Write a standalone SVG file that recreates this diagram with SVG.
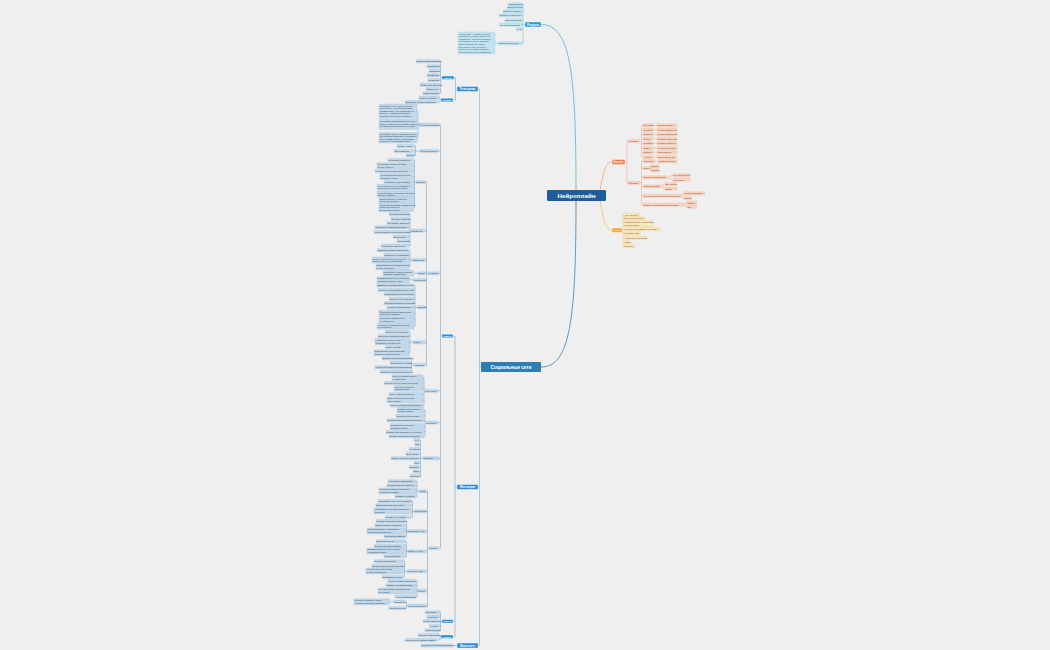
<svg xmlns="http://www.w3.org/2000/svg" width="1050" height="650" viewBox="0 0 1050 650">
<style>
.n{fill:#2b8fd4;stroke:#fff;stroke-width:0.4}
.nt{font-family:"Liberation Sans",Arial,sans-serif;font-weight:bold;fill:#fff;text-anchor:middle}
.r{fill:#c2d7e7;stroke:#94b7d2;stroke-width:0.25}
.t{font-family:"Liberation Sans",Arial,sans-serif;font-size:2.3px;fill:#27475f}
.tn{font-size:2.1px}
.ro{fill:#f7d3c1;stroke:#eba88a;stroke-width:0.25}
.to{fill:#8a3f20}
.ry{fill:#fae6bd;stroke:#eec878;stroke-width:0.25}
.ty{fill:#7a5512}
.rc{fill:#c4e2ee;stroke:#8cc5db;stroke-width:0.25}
.tc{fill:#1d566f}
.cb{fill:none;stroke:#4d93cc;stroke-width:0.45}
.co{fill:none;stroke:#ef9f7d;stroke-width:0.45}
.cy{fill:none;stroke:#f2c061;stroke-width:0.45}
.cc{fill:none;stroke:#5ab6d8;stroke-width:0.45}
</style>
<rect width="1050" height="650" fill="#efefef"/>
<g id="connectors">
<path d="M576,190 C576,70 570,24.5 541,24.5" fill="none" stroke="#58b2d6" stroke-width="0.8"/>
<path d="M576,201 C576,320 570,367 541,367" fill="none" stroke="#3b82b3" stroke-width="0.8"/>
<path d="M600,190 C604,170 606,162 612,162" fill="none" stroke="#ef9f7d" stroke-width="0.8"/>
<path d="M600,201 C604,222 606,230.2 612,230.2" fill="none" stroke="#f2c061" stroke-width="0.8"/>
<path class="cc" d="M525,24.5H523M523,4.3V43.3M522,4.3H523M522,7.6H523M522,11.4H523M522,15.4H523M522,20.3H523M522,24.7H523M522,29H523M522,43.3H523M495,43.3H498"/>
<path class="co" d="M625,162H627M627,141V183M627,141H628M627,183H628M640,141H641.5M641.5,125.3V157M641.5,125.3H643M641.5,129.7H643M641.5,134.3H643M641.5,138.7H643M641.5,143.3H643M641.5,148H643M641.5,152.3H643M641.5,157H643M653,125.3H657M653,129.7H657M653,134.3H657M653,138.7H657M653,143.3H657M653,148H657M653,152.3H657M653,157H657M640,183H641.5M641.5,161.3V204.7M641.5,161.3H643M641.5,168H643M641.5,177.3H643M641.5,186.3H643M641.5,195.7H643M641.5,204.7H643M655,161.3H658M649.5,168H650.3M650.3,166.3V170.3M650.3,166.3H651M650.3,170.3H651M668,177.3H670.5M670.5,175.3V179.7M670.5,175.3H673M670.5,179.7H673M661,186.3H663M663,184V188.7M663,184H665M663,188.7H665M681,195.7H682.5M682.5,193.3V198M682.5,193.3H684M682.5,198H684M684,204.7H685.5M685.5,202.7V207M685.5,202.7H687M685.5,207H687"/>
<path class="cy" d="M622,230.2H623M623,214.7V246.3M623,214.7H624M623,218.3H624M623,223.7H624M623,229H624M623,233.3H624M623,237.7H624M623,242H624M623,246.3H624"/>
<path d="M481,367H479.5M479.5,89V645.5M478,89H479.5M478,487H479.5M478,645.5H479.5" fill="none" stroke="#7fb0d6" stroke-width="0.6"/>
<path class="cb" d="M457,89H455.5M455.5,77.8V100M454,77.8H455.5M453,100H455.5M442,77.8H440.6M440.6,61.3V93.3M439.5,61.3H440.6M439.5,66.3H440.6M439.5,70.7H440.6M439.5,75.3H440.6M439.5,80H440.6M439.5,84.7H440.6M439.5,89H440.6M439.5,93.3H440.6M441,100H440M440,97.7V102M439,97.7H440M437,102H440"/>
<path class="cb" d="M457,487H455M455,336V636.7M453,336H455M453,621.3H455M453,636.7H455M442,336H440.5M440.5,124.7V548M439,124.7H440.5M438,151H440.5M439,273.3H440.5M438,391H440.5M438,422.7H440.5M439,458.3H440.5M439,548H440.5"/>
<path class="cb" d="M419,124.7H418M418,111V137.7M417,111H418M417,124.2H418M417,137.7H418M420,151H415.5M415.5,146V155.3M414.5,146H415.5M414.5,151H415.5M414.5,155.3H415.5"/>
<path class="cb" d="M428,273.3H426.5M426.5,182V365M425.5,182H426.5M425.5,230.7H426.5M425.5,260H426.5M425.5,273.3H426.5M425.5,280H426.5M425.5,307.3H426.5M425.5,342.3H426.5M425.5,365H426.5"/>
<path class="cb" d="M416,182H414.5M414.5,160V207.5M413.5,160H414.5M413.5,165.8H414.5M413.5,171H414.5M413.5,176.5H414.5M413.5,182H414.5M413.5,187.3H414.5M413.5,194H414.5M413.5,200H414.5M413.5,207.5H414.5"/>
<path class="cb" d="M411,230.7H410M410,214V245.7M409,214H410M409,218.7H410M409,223H410M409,227.3H410M409,232H410M409,236.7H410M409,241H410M409,245.7H410"/>
<path class="cb" d="M412,260H410M410,250.3V266.7M409,250.3H410M409,254.7H410M409,260H410M409,266.7H410M414,273.3H418M409,279.9H413"/>
<path class="cb" d="M417,307.3H415M415,285.3V326.3M414,285.3H415M414,289.8H415M414,294.2H415M414,298.7H415M414,303.1H415M414,307.6H415M414,313.3H415M414,319.8H415M414,326.3H415"/>
<path class="cb" d="M413,342.3H410M410,331.7V352.8M409,331.7H410M409,336.1H410M409,341.7H410M409,347H410M409,352.8H410M414,365H411.5M411.5,358.3V371.7M410.5,358.3H411.5M410.5,362.7H411.5M410.5,367.3H411.5M410.5,371.7H411.5"/>
<path class="cb" d="M425,391H424M424,377.8V405.5M423,377.8H424M423,383H424M423,388.2H424M423,394.1H424M423,399.8H424M423,405.5H424M426,422.7H425M425,410.3V436.1M424,410.3H425M424,416H425M424,420.4H425M424,426.5H425M424,431.8H425M424,436.1H425"/>
<path class="cb" d="M423,458.3H420.5M420.5,440.2V476M419.5,440.2H420.5M419.5,444.6H420.5M419.5,449H420.5M419.5,453.8H420.5M419.5,458.3H420.5M419.5,462.7H420.5M419.5,467.1H420.5M419.5,471.6H420.5M419.5,476H420.5"/>
<path class="cb" d="M429,548H427.5M427.5,491.3V605.7M426.5,491.3H427.5M426.5,511.3H427.5M426.5,531.3H427.5M426.5,551.3H427.5M426.5,571.3H427.5M426.5,590.7H427.5M426.5,605.7H427.5"/>
<path class="cb" d="M419,491.3H417M417,481.3V496.3M416,481.3H417M416,485.5H417M416,490.9H417M416,496.3H417M414,511.3H412.5M412.5,501V517M411.5,501H412.5M411.5,505.4H412.5M411.5,510.9H412.5M411.5,517H412.5"/>
<path class="cb" d="M407,531.3H406.5M406.5,520.9V536.4M405.5,520.9H406.5M405.5,525.4H406.5M405.5,530.9H406.5M405.5,536.4H406.5M408,551.3H406.5M406.5,541.4V556.4M405.5,541.4H406.5M405.5,545.8H406.5M405.5,550.9H406.5M405.5,556.4H406.5"/>
<path class="cb" d="M407,571.3H404.5M404.5,561.4V577M403.5,561.4H404.5M403.5,565.8H404.5M403.5,570.9H404.5M403.5,577H404.5M418,590.7H417M417,580.8V596.7M416,580.8H417M416,585.4H417M416,590.9H417M416,596.7H417"/>
<path class="cb" d="M408,605.7H406.5M406.5,601.7V608M405.5,601.7H406.5M405.5,608H406.5M389.5,601.7H394"/>
<path class="cb" d="M442,621.3H440.5M440.5,612.3V630.4M439.5,612.3H440.5M439.5,616.7H440.5M439.5,621.2H440.5M439.5,625.8H440.5M439.5,630.4H440.5M441,636.7H440M440,635V639.9M439,635H440M437,639.9H440M453,645.5H457"/>
</g>

<g id="center"><rect x="547" y="190" width="59" height="11" rx="1.2" fill="#1e5d99"/><text class="nt" x="576.5" y="197.9" font-size="6.2">Нейроплайн</text></g>

<g id="resources"><rect x="525" y="22" width="16" height="5" rx="0.8" fill="#1ba1d1" stroke="#fff" stroke-width="0.4"/><text class="nt" x="533" y="25.5" font-size="2.8">Ресурсы</text></g>
<g id="res-1"><rect class="rc" x="508" y="2.7" width="14" height="3.2" rx="0.5"/><text class="t tc" x="508.6" y="5.1">Сайт проекта</text></g>
<g id="res-2"><rect class="rc" x="507" y="6" width="15" height="3.2" rx="0.5"/><text class="t tc" x="507.6" y="8.4">Вики проекта</text></g>
<g id="res-3"><rect class="rc" x="503" y="9.8" width="19" height="3.2" rx="0.5"/><text class="t tc" x="503.6" y="12.2">Гайд по сервису</text></g>
<g id="res-4"><rect class="rc" x="499" y="13.8" width="23" height="3.2" rx="0.5"/><text class="t tc" x="499.6" y="16.2">Каталог нейросетей</text></g>
<g id="res-5"><rect class="rc" x="505" y="18.7" width="17" height="3.2" rx="0.5"/><text class="t tc" x="505.6" y="21.1">Бот поддержки</text></g>
<g id="res-6"><rect class="rc" x="499" y="23.1" width="23" height="3.2" rx="0.5"/><text class="t tc" x="499.6" y="25.5">Чат пользователей</text></g>
<g id="res-7"><rect class="rc" x="516" y="27.4" width="6" height="3.2" rx="0.5"/><text class="t tc" x="516.6" y="29.8">FAQ</text></g>
<g id="res-8"><rect class="rc" x="498" y="41.7" width="24" height="3.2" rx="0.5"/><text class="t tc" x="498.6" y="44.1">Описание проекта</text></g>
<g id="res-note"><rect class="rc" x="458" y="32" width="37" height="22" rx="0.5"/><text class="t tc tn" x="458.7" y="34.6">Нейроплайн — сервис, который<tspan x="458.7" y="37.2">объединяет лучшие нейросети в</tspan><tspan x="458.7" y="39.8">одном месте. Пользователи могут</tspan><tspan x="458.7" y="42.4">генерировать тексты, картинки,</tspan><tspan x="458.7" y="45">видео и музыку без VPN и</tspan><tspan x="458.7" y="47.6">иностранных карт. Оплата в</tspan><tspan x="458.7" y="50.2">рублях, понятный интерфейс и</tspan><tspan x="458.7" y="52.8">поддержка 24/7 на русском языке.</tspan></text></g>

<g id="content"><rect x="612" y="159.5" width="13" height="5" rx="0.8" fill="#f47b48" stroke="#fff" stroke-width="0.4"/><text class="nt" x="618.5" y="162.9" font-size="2.6">Контент</text></g>
<g id="ct-rub"><rect class="ro" x="628" y="139.4" width="12" height="3.2" rx="0.5"/><text class="t to" x="628.6" y="141.8">Рубрики</text></g>
<g id="ct-fmt"><rect class="ro" x="628" y="181.4" width="12" height="3.2" rx="0.5"/><text class="t to" x="628.6" y="183.8">Форматы</text></g>
<g id="rub-1"><rect class="ro" x="643" y="123.7" width="10" height="3.2" rx="0.5"/><text class="t to" x="643.5" y="126.1">Обучение</text><rect class="ro" x="657" y="123.7" width="20" height="3.2" rx="0.5"/><text class="t to" x="657.6" y="126.1">Уроки и гайды</text></g>
<g id="rub-2"><rect class="ro" x="643" y="128.1" width="10" height="3.2" rx="0.5"/><text class="t to" x="643.5" y="130.5">Новости</text><rect class="ro" x="657" y="128.1" width="20" height="3.2" rx="0.5"/><text class="t to" x="657.6" y="130.5">Новинки мира ИИ</text></g>
<g id="rub-3"><rect class="ro" x="643" y="132.7" width="10" height="3.2" rx="0.5"/><text class="t to" x="643.5" y="135.1">Обзоры</text><rect class="ro" x="657" y="132.7" width="20" height="3.2" rx="0.5"/><text class="t to" x="657.6" y="135.1">Обзор нейросетей</text></g>
<g id="rub-4"><rect class="ro" x="643" y="137.1" width="10" height="3.2" rx="0.5"/><text class="t to" x="643.5" y="139.5">Кейсы</text><rect class="ro" x="657" y="137.1" width="20" height="3.2" rx="0.5"/><text class="t to" x="657.6" y="139.5">Истории клиентов</text></g>
<g id="rub-5"><rect class="ro" x="643" y="141.7" width="10" height="3.2" rx="0.5"/><text class="t to" x="643.5" y="144.1">Промпты</text><rect class="ro" x="657" y="141.7" width="20" height="3.2" rx="0.5"/><text class="t to" x="657.6" y="144.1">Готовые запросы</text></g>
<g id="rub-6"><rect class="ro" x="643" y="146.4" width="10" height="3.2" rx="0.5"/><text class="t to" x="643.5" y="148.8">Юмор</text><rect class="ro" x="657" y="146.4" width="20" height="3.2" rx="0.5"/><text class="t to" x="657.6" y="148.8">Мемы и приколы</text></g>
<g id="rub-7"><rect class="ro" x="643" y="150.7" width="10" height="3.2" rx="0.5"/><text class="t to" x="643.5" y="153.1">Опросы</text><rect class="ro" x="657" y="150.7" width="20" height="3.2" rx="0.5"/><text class="t to" x="657.6" y="153.1">Голосования</text></g>
<g id="rub-8"><rect class="ro" x="643" y="155.4" width="10" height="3.2" rx="0.5"/><text class="t to" x="643.5" y="157.8">Анонсы</text><rect class="ro" x="657" y="155.4" width="20" height="3.2" rx="0.5"/><text class="t to" x="657.6" y="157.8">Новые функции</text></g>
<g id="fmt-a"><rect class="ro" x="643" y="159.7" width="12" height="3.2" rx="0.5"/><text class="t to" x="643.5" y="162.1">Карусели</text><rect class="ro" x="658" y="159.7" width="19" height="3.2" rx="0.5"/><text class="t to" x="658.6" y="162.1">Слайды-советы</text></g>
<g id="fmt-b"><rect class="ro" x="643" y="166.4" width="6.5" height="3.2" rx="0.5"/><text class="t to" x="643.4" y="168.8">Видео</text><rect class="ro" x="651" y="164.7" width="8" height="3.2" rx="0.5"/><text class="t to" x="651.5" y="167.1">Рилсы</text><rect class="ro" x="651" y="168.7" width="8" height="3.2" rx="0.5"/><text class="t to" x="651.5" y="171.1">Шортсы</text></g>
<g id="fmt-c"><rect class="ro" x="643" y="175.7" width="25" height="3.2" rx="0.5"/><text class="t to" x="643.6" y="178.1">Работы подписчиков</text><rect class="ro" x="673" y="173.7" width="17" height="3.2" rx="0.5"/><text class="t to" x="673.6" y="176.1">Лучшие работы</text><rect class="ro" x="673" y="178.1" width="17" height="3.2" rx="0.5"/><text class="t to" x="673.6" y="180.5">Конкурсы</text></g>
<g id="fmt-d"><rect class="ro" x="643" y="184.7" width="18" height="3.2" rx="0.5"/><text class="t to" x="643.6" y="187.1">Сравнения ИИ</text><rect class="ro" x="665" y="182.4" width="12" height="3.2" rx="0.5"/><text class="t to" x="665.5" y="184.8">До и после</text><rect class="ro" x="665" y="187.1" width="12" height="3.2" rx="0.5"/><text class="t to" x="665.5" y="189.5">Батлы</text></g>
<g id="fmt-e"><rect class="ro" x="643" y="194.1" width="38" height="3.2" rx="0.5"/><text class="t to" x="643.6" y="196.5">Пошаговые инструкции генерации</text><rect class="ro" x="684" y="191.7" width="21" height="3.2" rx="0.5"/><text class="t to" x="684.6" y="194.1">Текст и картинки</text><rect class="ro" x="684" y="196.4" width="8" height="3.2" rx="0.5"/><text class="t to" x="684.5" y="198.8">Видео</text></g>
<g id="fmt-f"><rect class="ro" x="643" y="203.1" width="41" height="3.2" rx="0.5"/><text class="t to" x="643.6" y="205.5">Ответы на вопросы подписчиков</text><rect class="ro" x="687" y="201.1" width="10" height="3.2" rx="0.5"/><text class="t to" x="687.5" y="203.5">Эфиры</text><rect class="ro" x="687" y="205.4" width="10" height="3.2" rx="0.5"/><text class="t to" x="687.5" y="207.8">Q&amp;A</text></g>

<g id="ideas"><rect x="612" y="228" width="10" height="4.5" rx="0.8" fill="#f5a524" stroke="#fff" stroke-width="0.4"/><text class="nt" x="617" y="231.2" font-size="2.5">Идеи</text></g>
<g id="idea-1"><rect class="ry" x="624" y="213.1" width="16" height="3.2" rx="0.5"/><text class="t ty" x="624.6" y="215.5">Чат-бот в ТГ</text></g>
<g id="idea-2"><rect class="ry" x="624" y="216.7" width="21" height="3.2" rx="0.5"/><text class="t ty" x="624.6" y="219.1">Бонусы за друзей</text></g>
<g id="idea-3"><rect class="ry" x="624" y="220.7" width="29" height="6" rx="0.5"/><text class="t ty" x="624.6" y="223.2">Коллаборации с блогерами<tspan x="624.6" y="225.8">и экспертами</tspan></text></g>
<g id="idea-4"><rect class="ry" x="624" y="227.4" width="37" height="3.2" rx="0.5"/><text class="t ty" x="624.6" y="229.8">Розыгрыш подписки на сервис</text></g>
<g id="idea-5"><rect class="ry" x="624" y="231.7" width="16" height="3.2" rx="0.5"/><text class="t ty" x="624.6" y="234.1">Марафон ИИ</text></g>
<g id="idea-6"><rect class="ry" x="624" y="236.1" width="23" height="3.2" rx="0.5"/><text class="t ty" x="624.6" y="238.5">Челлендж генераций</text></g>
<g id="idea-7"><rect class="ry" x="624" y="240.4" width="7" height="3.2" rx="0.5"/><text class="t ty" x="624.6" y="242.8">Эфир</text></g>
<g id="idea-8"><rect class="ry" x="624" y="244.7" width="11" height="3.2" rx="0.5"/><text class="t ty" x="624.6" y="247.1">Подкаст</text></g>

<g id="social"><rect x="481" y="362" width="60" height="10" rx="1" fill="#2d7fb3"/><text class="nt" x="511" y="368.6" font-size="4.6">Социальные сети</text></g>

<g id="tg"><rect class="n" x="457" y="86.5" width="21" height="5" rx="0.6"/><text class="nt" x="467.5" y="90" font-size="2.9">Телеграмм</text></g>
<g id="tg-posts"><rect class="n" x="442" y="76" width="12" height="3.6" rx="0.5"/><text class="nt" x="448" y="78.7" font-size="2.5">Посты</text></g>
<g id="tg-stories"><rect class="n" x="441" y="98.2" width="12" height="3.6" rx="0.5"/><text class="nt" x="447" y="100.9" font-size="2.5">Сторис</text></g>
<g id="tgp-1"><rect class="r" x="416" y="59.7" width="23.5" height="3.2" rx="0.5"/><text class="t" x="416.6" y="62.1">Обзор новой нейросети</text></g>
<g id="tgp-2"><rect class="r" x="427" y="64.7" width="12.5" height="3.2" rx="0.5"/><text class="t" x="427.6" y="67.1">Промпт дня</text></g>
<g id="tgp-3"><rect class="r" x="429" y="69.1" width="10.5" height="3.2" rx="0.5"/><text class="t" x="429.6" y="71.5">Дайджест</text></g>
<g id="tgp-4"><rect class="r" x="427" y="73.7" width="12.5" height="3.2" rx="0.5"/><text class="t" x="427.6" y="76.1">Лайфхаки</text></g>
<g id="tgp-5"><rect class="r" x="428" y="78.4" width="11.5" height="3.2" rx="0.5"/><text class="t" x="428.6" y="80.8">Подборки</text></g>
<g id="tgp-6"><rect class="r" x="420" y="83.1" width="19.5" height="3.2" rx="0.5"/><text class="t" x="420.5" y="85.5">Сравнение моделей</text></g>
<g id="tgp-7"><rect class="r" x="426" y="87.4" width="13.5" height="3.2" rx="0.5"/><text class="t" x="426.6" y="89.8">Опрос дня</text></g>
<g id="tgp-8"><rect class="r" x="423" y="91.7" width="16.5" height="3.2" rx="0.5"/><text class="t" x="423.6" y="94.1">Мемы про ИИ</text></g>
<g id="tgs-1"><rect class="r" x="419" y="96.1" width="20" height="3.2" rx="0.5"/><text class="t" x="419.6" y="98.5">Опрос в сторис</text></g>
<g id="tgs-2"><rect class="r" x="405" y="100.4" width="32" height="3.2" rx="0.5"/><text class="t" x="405.6" y="102.8">Закулисье работы команды</text></g>

<g id="ig"><rect class="n" x="457" y="484.5" width="21" height="5" rx="0.6"/><text class="nt" x="467.5" y="488" font-size="2.9">Инстаграм</text></g>
<g id="ig-reels"><rect class="n" x="442" y="334.2" width="11" height="3.6" rx="0.5"/><text class="nt" x="447.5" y="336.9" font-size="2.5">Рилсы</text></g>
<g id="ig-posts"><rect class="n" x="442" y="619.5" width="11" height="3.6" rx="0.5"/><text class="nt" x="447.5" y="622.2" font-size="2.5">Посты</text></g>
<g id="ig-stories"><rect class="n" x="441" y="634.9" width="12" height="3.6" rx="0.5"/><text class="nt" x="447" y="637.6" font-size="2.5">Сторис</text></g>

<g id="r-a"><rect class="r" x="419" y="123.1" width="20" height="3.2" rx="0.5"/><text class="t" x="419.6" y="125.5">Сценарии роликов</text></g>
<g id="note-1"><rect class="r" x="379" y="104" width="38" height="14" rx="0.5"/><text class="t tn" x="379.7" y="106.5">Сценарий 1. Хук: «Сделал аватар<tspan x="379.7" y="109.1">за 10 секунд». Показываем экран,</tspan><tspan x="379.7" y="111.7">вводим промпт, получаем результат.</tspan><tspan x="379.7" y="114.3">В конце — призыв попробовать</tspan><tspan x="379.7" y="116.9">бесплатно по ссылке в профиле.</tspan></text></g>
<g id="note-2"><rect class="r" x="379" y="119" width="38" height="10.5" rx="0.5"/><text class="t tn" x="379.7" y="121.8">Сценарий 2. Сравниваем результаты<tspan x="379.7" y="124.5">разных нейросетей по одному промпту</tspan><tspan x="379.7" y="127.2">и просим зрителей выбрать лучший.</tspan></text></g>
<g id="note-3"><rect class="r" x="379" y="132.5" width="38" height="10.5" rx="0.5"/><text class="t tn" x="379.7" y="134.9">Сценарий 3. Тренд: оживляем старые<tspan x="379.7" y="137.4">фотографии подписчиков. Собираем</tspan><tspan x="379.7" y="139.9">фото в комментариях, показываем</tspan><tspan x="379.7" y="142.4">результат в следующем ролике.</tspan></text></g>
<g id="r-b"><rect class="r" x="420" y="149.4" width="18" height="3.2" rx="0.5"/><text class="t" x="420.6" y="151.8">Форматы видео</text></g>
<g id="b-1"><rect class="r" x="397" y="144.4" width="17.5" height="3.2" rx="0.5"/><text class="t" x="397.6" y="146.8">Экран + голос</text></g>
<g id="b-2"><rect class="r" x="394" y="149.4" width="20.5" height="3.2" rx="0.5"/><text class="t" x="394.6" y="151.8">ИИ-анимация</text></g>
<g id="b-3"><rect class="r" x="406" y="153.7" width="8.5" height="3.2" rx="0.5"/><text class="t" x="406.5" y="156.1">Тренды</text></g>

<g id="r-c"><rect class="r" x="428" y="271.7" width="11" height="3.2" rx="0.5"/><text class="t" x="428.6" y="274.1">Рубрики</text></g>
<g id="c1"><rect class="r" x="416" y="180.4" width="9.5" height="3.2" rx="0.5"/><text class="t" x="416.6" y="182.8">Обзоры</text></g>
<g id="c2"><rect class="r" x="411" y="229.1" width="14.5" height="3.2" rx="0.5"/><text class="t" x="411.6" y="231.5">Лайфхаки</text></g>
<g id="c3"><rect class="r" x="412" y="258.4" width="13.5" height="3.2" rx="0.5"/><text class="t" x="412.6" y="260.8">Сравнения</text></g>
<g id="c4"><rect class="r" x="418" y="271.7" width="7.5" height="3.2" rx="0.5"/><text class="t" x="418.5" y="274.1">Тесты</text></g>
<g id="c5"><rect class="r" x="413" y="278.4" width="12.5" height="3.2" rx="0.5"/><text class="t" x="413.6" y="280.8">Челленджи</text></g>
<g id="c6"><rect class="r" x="417" y="305.7" width="8.5" height="3.2" rx="0.5"/><text class="t" x="417.5" y="308.1">Истории</text></g>
<g id="c7"><rect class="r" x="413" y="340.7" width="12.5" height="3.2" rx="0.5"/><text class="t" x="413.6" y="343.1">Юмор</text></g>
<g id="c8"><rect class="r" x="414" y="363.4" width="11.5" height="3.2" rx="0.5"/><text class="t" x="414.6" y="365.8">Новости</text></g>

<g id="c1-1"><rect class="r" x="388" y="158.4" width="25.5" height="3.2" rx="0.5"/><text class="t" x="388.6" y="160.8">Генератор картинок</text></g>
<g id="c1-2"><rect class="r" x="377" y="162.8" width="36.5" height="6" rx="0.5"/><text class="t" x="377.6" y="165.3">Как создать видео из фото<tspan x="377.6" y="167.9">за одну минуту</tspan></text></g>
<g id="c1-3"><rect class="r" x="375" y="169.4" width="38.5" height="3.2" rx="0.5"/><text class="t" x="375.6" y="171.8">Нейросеть для озвучки текста</text></g>
<g id="c1-4"><rect class="r" x="380" y="173.5" width="33.5" height="6" rx="0.5"/><text class="t" x="380.6" y="176">Генерация музыки по тексту<tspan x="380.6" y="178.6">и готовые треки</tspan></text></g>
<g id="c1-5"><rect class="r" x="384" y="180.4" width="29.5" height="3.2" rx="0.5"/><text class="t" x="384.6" y="182.8">Нейросеть для слайдов</text></g>
<g id="c1-6"><rect class="r" x="377" y="184.3" width="36.5" height="6" rx="0.5"/><text class="t" x="377.6" y="186.8">Чат-бот для учёбы: рефераты,<tspan x="377.6" y="189.4">конспекты и решения задач</tspan></text></g>
<g id="c1-7"><rect class="r" x="377" y="191" width="36.5" height="6" rx="0.5"/><text class="t" x="377.6" y="193.5">Апскейл фото: улучшаем качество<tspan x="377.6" y="196.1">старых снимков</tspan></text></g>
<g id="c1-8"><rect class="r" x="379" y="197.1" width="34.5" height="5.8" rx="0.5"/><text class="t" x="379.6" y="199.5">Замена фона и удаление<tspan x="379.6" y="202.1">объектов на фото</tspan></text></g>
<g id="c1-9"><rect class="r" x="379" y="203.2" width="34.5" height="8.6" rx="0.5"/><text class="t" x="379.6" y="205.7">Создание логотипа и фирменного<tspan x="379.6" y="208.3">стиля для бизнеса</tspan><tspan x="379.6" y="210.9">за несколько минут</tspan></text></g>

<g id="c2-1"><rect class="r" x="389" y="212.4" width="20" height="3.2" rx="0.5"/><text class="t" x="389.6" y="214.8">Секреты промптов</text></g>
<g id="c2-2"><rect class="r" x="391" y="217.1" width="18" height="3.2" rx="0.5"/><text class="t" x="391.6" y="219.5">Ошибки новичков</text></g>
<g id="c2-3"><rect class="r" x="387" y="221.4" width="22" height="3.2" rx="0.5"/><text class="t" x="387.6" y="223.8">Как писать запросы</text></g>
<g id="c2-4"><rect class="r" x="375" y="225.7" width="34" height="3.2" rx="0.5"/><text class="t" x="375.6" y="228.1">Полезные настройки сервиса</text></g>
<g id="c2-5"><rect class="r" x="374" y="230.4" width="35" height="3.2" rx="0.5"/><text class="t" x="374.6" y="232.8">Как экономить токены при работе</text></g>
<g id="c2-6"><rect class="r" x="393" y="235.1" width="16" height="3.2" rx="0.5"/><text class="t" x="393.6" y="237.5">Шпаргалки</text></g>
<g id="c2-7"><rect class="r" x="397" y="239.4" width="12" height="3.2" rx="0.5"/><text class="t" x="397.6" y="241.8">Топ стилей</text></g>
<g id="c2-8"><rect class="r" x="381" y="244.1" width="28" height="3.2" rx="0.5"/><text class="t" x="381.6" y="246.5">Как задать свой стиль</text></g>

<g id="c3-1"><rect class="r" x="377" y="248.7" width="32" height="3.2" rx="0.5"/><text class="t" x="377.6" y="251.1">ChatGPT против YandexGPT</text></g>
<g id="c3-2"><rect class="r" x="384" y="253.1" width="25" height="3.2" rx="0.5"/><text class="t" x="384.6" y="255.5">Midjourney и Kandinsky</text></g>
<g id="c3-3"><rect class="r" x="372" y="257" width="37" height="6" rx="0.5"/><text class="t" x="372.6" y="259.5">Какая нейросеть лучше рисует<tspan x="372.6" y="262.1">людей: тест на 10 промптах</tspan></text></g>
<g id="c3-4"><rect class="r" x="376" y="263.7" width="33" height="6" rx="0.5"/><text class="t" x="376.6" y="266.2">Сравниваем генерацию видео<tspan x="376.6" y="268.8">в трёх сервисах</tspan></text></g>
<g id="c4-1"><rect class="r" x="383" y="270.3" width="31" height="6" rx="0.5"/><text class="t" x="383.6" y="272.8">Проверяем, сможет ли ИИ<tspan x="383.6" y="275.4">заменить дизайнера</tspan></text></g>
<g id="c5-1"><rect class="r" x="377" y="276.9" width="32" height="6" rx="0.5"/><text class="t" x="377.6" y="279.4">Повторяем тренды с помощью<tspan x="377.6" y="282">нейросетей за 24 часа</tspan></text></g>

<g id="c6-1"><rect class="r" x="377" y="283.7" width="37" height="3.2" rx="0.5"/><text class="t" x="377.6" y="286.1">Дизайнер ускорил работу в 5 раз</text></g>
<g id="c6-2"><rect class="r" x="378" y="288.2" width="36" height="3.2" rx="0.5"/><text class="t" x="378.6" y="290.6">Студент подготовил проект с ИИ</text></g>
<g id="c6-3"><rect class="r" x="384" y="292.6" width="30" height="3.2" rx="0.5"/><text class="t" x="384.6" y="295">Маркетолог и контент-план</text></g>
<g id="c6-4"><rect class="r" x="389" y="297.1" width="25" height="3.2" rx="0.5"/><text class="t" x="389.6" y="299.5">Блогер и его обложки</text></g>
<g id="c6-5"><rect class="r" x="384" y="301.5" width="30" height="3.2" rx="0.5"/><text class="t" x="384.6" y="303.9">Предприниматель и логотип</text></g>
<g id="c6-6"><rect class="r" x="387" y="306" width="27" height="3.2" rx="0.5"/><text class="t" x="387.6" y="308.4">Учитель и материалы</text></g>
<g id="c6-7"><rect class="r" x="379" y="310.3" width="35" height="6" rx="0.5"/><text class="t" x="379.6" y="312.8">Фотограф восстановил архив<tspan x="379.6" y="315.4">семейных снимков</tspan></text></g>
<g id="c6-8"><rect class="r" x="379" y="316.8" width="35" height="6" rx="0.5"/><text class="t" x="379.6" y="319.3">Музыкант записал трек<tspan x="379.6" y="321.9">с нейросетью</tspan></text></g>
<g id="c6-9"><rect class="r" x="377" y="323.3" width="37" height="6" rx="0.5"/><text class="t" x="377.6" y="325.8">Художник нашёл вдохновение<tspan x="377.6" y="328.4">в генерациях</tspan></text></g>

<g id="c7-1"><rect class="r" x="385" y="330.1" width="24" height="3.2" rx="0.5"/><text class="t" x="385.6" y="332.5">Смешные генерации</text></g>
<g id="c7-2"><rect class="r" x="378" y="334.5" width="31" height="3.2" rx="0.5"/><text class="t" x="378.6" y="336.9">ИИ понял промпт буквально</text></g>
<g id="c7-3"><rect class="r" x="375" y="338.7" width="34" height="6" rx="0.5"/><text class="t" x="375.6" y="341.2">Нейросеть рисует руки:<tspan x="375.6" y="343.8">ожидание и реальность</tspan></text></g>
<g id="c7-4"><rect class="r" x="385" y="345.4" width="24" height="3.2" rx="0.5"/><text class="t" x="385.6" y="347.8">Мемы недели</text></g>
<g id="c7-5"><rect class="r" x="374" y="349.8" width="35" height="6" rx="0.5"/><text class="t" x="374.6" y="352.3">Озвучиваем котов голосами<tspan x="374.6" y="354.9">известных персонажей</tspan></text></g>

<g id="c8-1"><rect class="r" x="382" y="356.7" width="28.5" height="3.2" rx="0.5"/><text class="t" x="382.6" y="359.1">Вышла новая версия модели</text></g>
<g id="c8-2"><rect class="r" x="390" y="361.1" width="20.5" height="3.2" rx="0.5"/><text class="t" x="390.5" y="363.5">Обновление сервиса</text></g>
<g id="c8-3"><rect class="r" x="375" y="365.7" width="35.5" height="3.2" rx="0.5"/><text class="t" x="375.6" y="368.1">Новые функции генерации видео</text></g>
<g id="c8-4"><rect class="r" x="380" y="370.1" width="30.5" height="3.2" rx="0.5"/><text class="t" x="380.5" y="372.5">Главные события недели в ИИ</text></g>

<g id="r-d"><rect class="r" x="425" y="389.4" width="13" height="3.2" rx="0.5"/><text class="t" x="425.6" y="391.8">Обучение</text></g>
<g id="d-1"><rect class="r" x="392" y="374.8" width="31" height="6" rx="0.5"/><text class="t" x="392.6" y="377.3">Урок 1: первый запрос<tspan x="392.6" y="379.9">к нейросети</tspan></text></g>
<g id="d-2"><rect class="r" x="384" y="381.4" width="39" height="3.2" rx="0.5"/><text class="t" x="384.6" y="383.8">Урок 2: как улучшить результат</text></g>
<g id="d-3"><rect class="r" x="394" y="385.2" width="29" height="6" rx="0.5"/><text class="t" x="394.6" y="387.7">Урок 3: генерация<tspan x="394.6" y="390.3">изображений</tspan></text></g>
<g id="d-4"><rect class="r" x="389" y="392.5" width="34" height="3.2" rx="0.5"/><text class="t" x="389.6" y="394.9">Урок 4: видео из текста</text></g>
<g id="d-5"><rect class="r" x="387" y="396.8" width="36" height="6" rx="0.5"/><text class="t" x="387.6" y="399.3">Урок 5: озвучка и музыка<tspan x="387.6" y="401.9">для роликов</tspan></text></g>
<g id="d-6"><rect class="r" x="390" y="403.9" width="33" height="3.2" rx="0.5"/><text class="t" x="390.6" y="406.3">Урок 6: собираем всё вместе</text></g>

<g id="r-e"><rect class="r" x="426" y="421.1" width="12" height="3.2" rx="0.5"/><text class="t" x="426.6" y="423.5">Промпты</text></g>
<g id="e-1"><rect class="r" x="397" y="407.3" width="27" height="6" rx="0.5"/><text class="t" x="397.6" y="409.8">Промпт для портрета<tspan x="397.6" y="412.4">в стиле аниме</tspan></text></g>
<g id="e-2"><rect class="r" x="396" y="414.4" width="28" height="3.2" rx="0.5"/><text class="t" x="396.6" y="416.8">Промпт для логотипа</text></g>
<g id="e-3"><rect class="r" x="387" y="418.8" width="37" height="3.2" rx="0.5"/><text class="t" x="387.6" y="421.2">Промпт для продающего текста</text></g>
<g id="e-4"><rect class="r" x="390" y="423.5" width="34" height="6" rx="0.5"/><text class="t" x="390.6" y="426">Промпт для сценария<tspan x="390.6" y="428.6">короткого видео</tspan></text></g>
<g id="e-5"><rect class="r" x="386" y="430.2" width="38" height="3.2" rx="0.5"/><text class="t" x="386.6" y="432.6">Промпт для обложки на YouTube</text></g>
<g id="e-6"><rect class="r" x="389" y="434.5" width="35" height="3.2" rx="0.5"/><text class="t" x="389.6" y="436.9">Промпт для поста в соцсети</text></g>

<g id="r-f"><rect class="r" x="423" y="456.7" width="16" height="3.2" rx="0.5"/><text class="t" x="423.6" y="459.1">Форматы</text></g>
<g id="f-1"><rect class="r" x="414" y="438.6" width="5.5" height="3.2" rx="0.5"/><text class="t" x="414.5" y="441">Хук</text></g>
<g id="f-2"><rect class="r" x="415" y="443" width="4.5" height="3.2" rx="0.5"/><text class="t" x="415.3" y="445.4">Топ</text></g>
<g id="f-3"><rect class="r" x="409" y="447.4" width="10.5" height="3.2" rx="0.5"/><text class="t" x="409.5" y="449.8">Туториал</text></g>
<g id="f-4"><rect class="r" x="406" y="452.2" width="13.5" height="3.2" rx="0.5"/><text class="t" x="406.6" y="454.6">До и после</text></g>
<g id="f-5"><rect class="r" x="391" y="456.7" width="28.5" height="3.2" rx="0.5"/><text class="t" x="391.6" y="459.1">Запись экрана с голосом</text></g>
<g id="f-6"><rect class="r" x="414" y="461.1" width="5.5" height="3.2" rx="0.5"/><text class="t" x="414.4" y="463.5">Тест</text></g>
<g id="f-7"><rect class="r" x="409" y="465.5" width="10.5" height="3.2" rx="0.5"/><text class="t" x="409.6" y="467.9">Реакция</text></g>
<g id="f-8"><rect class="r" x="413" y="470" width="6.5" height="3.2" rx="0.5"/><text class="t" x="413.5" y="472.4">Батл</text></g>
<g id="f-9"><rect class="r" x="410" y="474.4" width="9.5" height="3.2" rx="0.5"/><text class="t" x="410.4" y="476.8">Интервью</text></g>

<g id="r-g"><rect class="r" x="429" y="546.4" width="10" height="3.2" rx="0.5"/><text class="t" x="429.6" y="548.8">Серии</text></g>
<g id="g1"><rect class="r" x="419" y="489.7" width="7.5" height="3.2" rx="0.5"/><text class="t" x="419.5" y="492.1">Старт</text></g>
<g id="g2"><rect class="r" x="414" y="509.7" width="12.5" height="3.2" rx="0.5"/><text class="t" x="414.5" y="512.1">Знакомство</text></g>
<g id="g3"><rect class="r" x="407" y="529.7" width="19.5" height="3.2" rx="0.5"/><text class="t" x="407.6" y="532.1">Картинки с нуля</text></g>
<g id="g4"><rect class="r" x="408" y="549.7" width="18.5" height="3.2" rx="0.5"/><text class="t" x="408.6" y="552.1">Видео с нуля</text></g>
<g id="g5"><rect class="r" x="407" y="569.7" width="19.5" height="3.2" rx="0.5"/><text class="t" x="407.6" y="572.1">Музыка с нуля</text></g>
<g id="g6"><rect class="r" x="418" y="589.1" width="8.5" height="3.2" rx="0.5"/><text class="t" x="418.6" y="591.5">Итоги</text></g>
<g id="g7"><rect class="r" x="408" y="604.1" width="18.5" height="3.2" rx="0.5"/><text class="t" x="408.6" y="606.5">Бонусный выпуск</text></g>

<g id="g1-1"><rect class="r" x="388" y="479.7" width="28" height="3.2" rx="0.5"/><text class="t" x="388.6" y="482.1">Что такое Нейроплайн</text></g>
<g id="g1-2"><rect class="r" x="387" y="483.9" width="29" height="3.2" rx="0.5"/><text class="t" x="387.6" y="486.3">Регистрация за 1 минуту</text></g>
<g id="g1-3"><rect class="r" x="379" y="487.9" width="37" height="6" rx="0.5"/><text class="t" x="379.6" y="490.4">Первый бесплатный запрос<tspan x="379.6" y="493">и лимиты тарифа</tspan></text></g>
<g id="g1-4"><rect class="r" x="395" y="494.7" width="21" height="3.2" rx="0.5"/><text class="t" x="395.6" y="497.1">Тарифы и оплата</text></g>
<g id="g2-1"><rect class="r" x="378" y="499.4" width="33.5" height="3.2" rx="0.5"/><text class="t" x="378.6" y="501.8">Интерфейс: где что находится</text></g>
<g id="g2-2"><rect class="r" x="376" y="503.8" width="35.5" height="3.2" rx="0.5"/><text class="t" x="376.6" y="506.2">Выбор модели под задачу</text></g>
<g id="g2-3"><rect class="r" x="374" y="507.9" width="37.5" height="6" rx="0.5"/><text class="t" x="374.6" y="510.4">Настройки генерации и история<tspan x="374.6" y="513">запросов</tspan></text></g>
<g id="g2-4"><rect class="r" x="385" y="515.4" width="26.5" height="3.2" rx="0.5"/><text class="t" x="385.6" y="517.8">Избранное и папки</text></g>
<g id="g3-1"><rect class="r" x="376" y="519.3" width="29.5" height="3.2" rx="0.5"/><text class="t" x="376.5" y="521.7">Первая картинка по промпту</text></g>
<g id="g3-2"><rect class="r" x="375" y="523.8" width="30.5" height="3.2" rx="0.5"/><text class="t" x="375.6" y="526.2">Выбор стиля и размера</text></g>
<g id="g3-3"><rect class="r" x="367" y="527.9" width="38.5" height="6" rx="0.5"/><text class="t" x="367.6" y="530.4">Редактирование и доработка<tspan x="367.6" y="533">готового изображения</tspan></text></g>
<g id="g3-4"><rect class="r" x="384" y="534.8" width="21.5" height="3.2" rx="0.5"/><text class="t" x="384.6" y="537.2">Скачивание файла</text></g>
<g id="g4-1"><rect class="r" x="376" y="539.8" width="29.5" height="3.2" rx="0.5"/><text class="t" x="376.6" y="542.2">Видео из текста</text></g>
<g id="g4-2"><rect class="r" x="374" y="544.2" width="31.5" height="3.2" rx="0.5"/><text class="t" x="374.6" y="546.6">Оживление фотографии</text></g>
<g id="g4-3"><rect class="r" x="367" y="547.9" width="38.5" height="6" rx="0.5"/><text class="t" x="367.6" y="550.4">Добавляем музыку и субтитры<tspan x="367.6" y="553">к готовому ролику</tspan></text></g>
<g id="g4-4"><rect class="r" x="384" y="554.8" width="21.5" height="3.2" rx="0.5"/><text class="t" x="384.6" y="557.2">Экспорт видео</text></g>
<g id="g5-1"><rect class="r" x="374" y="559.8" width="29.5" height="3.2" rx="0.5"/><text class="t" x="374.6" y="562.2">Трек по настроению</text></g>
<g id="g5-2"><rect class="r" x="372" y="564.2" width="31.5" height="3.2" rx="0.5"/><text class="t" x="372.6" y="566.6">Выбор жанра и инструментов</text></g>
<g id="g5-3"><rect class="r" x="366" y="567.9" width="37.5" height="6" rx="0.5"/><text class="t" x="366.6" y="570.4">Генерация текста песни<tspan x="366.6" y="573">и озвучка голосом</tspan></text></g>
<g id="g5-4"><rect class="r" x="382" y="575.4" width="21.5" height="3.2" rx="0.5"/><text class="t" x="382.6" y="577.8">Скачивание трека</text></g>
<g id="g6-1"><rect class="r" x="388" y="579.2" width="28" height="3.2" rx="0.5"/><text class="t" x="388.6" y="581.6">Разбор ошибок зрителей</text></g>
<g id="g6-2"><rect class="r" x="386" y="583.8" width="30" height="3.2" rx="0.5"/><text class="t" x="386.6" y="586.2">Ответы на комментарии</text></g>
<g id="g6-3"><rect class="r" x="378" y="587.9" width="38" height="6" rx="0.5"/><text class="t" x="378.6" y="590.4">Лучшие работы подписчиков<tspan x="378.6" y="593">за неделю</tspan></text></g>
<g id="g6-4"><rect class="r" x="395" y="595.1" width="21" height="3.2" rx="0.5"/><text class="t" x="395.6" y="597.5">Анонс новой серии</text></g>
<g id="g7-a"><rect class="r" x="394" y="600.1" width="11.5" height="3.2" rx="0.5"/><text class="t" x="394.6" y="602.5">Розыгрыш</text></g>
<g id="g7-a1"><rect class="r" x="354" y="598.7" width="35.5" height="6" rx="0.5"/><text class="t" x="354.6" y="601.2">Условия: подписка, лайк<tspan x="354.6" y="603.8">и комментарий под роликом</tspan></text></g>
<g id="g7-b"><rect class="r" x="389" y="606.4" width="16.5" height="3.2" rx="0.5"/><text class="t" x="389.6" y="608.8">Итоги конкурса</text></g>

<g id="igp-1"><rect class="r" x="425" y="610.7" width="14.5" height="3.2" rx="0.5"/><text class="t" x="425.6" y="613.1">Карусели</text></g>
<g id="igp-2"><rect class="r" x="427" y="615.1" width="12.5" height="3.2" rx="0.5"/><text class="t" x="427.6" y="617.5">Подборки</text></g>
<g id="igp-3"><rect class="r" x="423" y="619.6" width="16.5" height="3.2" rx="0.5"/><text class="t" x="423.6" y="622">Кейсы клиентов</text></g>
<g id="igp-4"><rect class="r" x="429" y="624.2" width="10.5" height="3.2" rx="0.5"/><text class="t" x="429.6" y="626.6">Анонсы</text></g>
<g id="igp-5"><rect class="r" x="425" y="628.8" width="14.5" height="3.2" rx="0.5"/><text class="t" x="425.6" y="631.2">Мемы про ИИ</text></g>
<g id="igs-1"><rect class="r" x="418" y="633.4" width="21" height="3.2" rx="0.5"/><text class="t" x="418.6" y="635.8">Опросы и викторины</text></g>
<g id="igs-2"><rect class="r" x="405" y="638.3" width="32" height="3.2" rx="0.5"/><text class="t" x="405.6" y="640.7">Генерация в прямом эфире</text></g>

<g id="vk"><rect class="n" x="457" y="643" width="21" height="5" rx="0.6"/><text class="nt" x="467.5" y="646.5" font-size="2.9">Вконтакте</text></g>
<g id="vk-1"><rect class="r" x="421" y="643.9" width="32" height="3.2" rx="0.5"/><text class="t" x="421.6" y="646.3">Репосты из Телеграм-канала</text></g>
</svg>
